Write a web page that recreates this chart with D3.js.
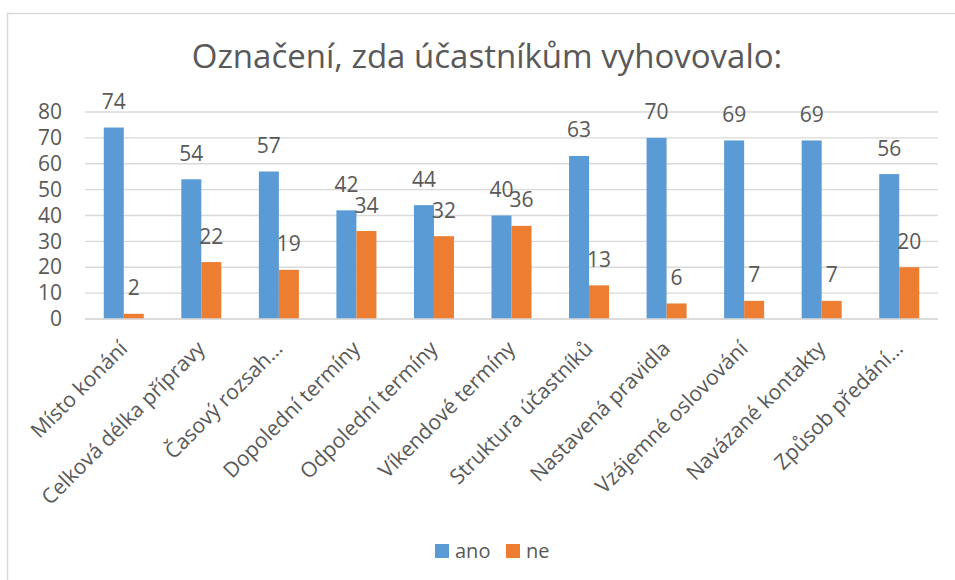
<!DOCTYPE html>
<html>
<head>
<meta charset="utf-8">
<script src="https://cdn.jsdelivr.net/npm/d3@7"></script>
<style>
  body { margin: 0; background: #fff; }
  svg { display: block; font-family: 'Open Sans', sans-serif; }
</style>
</head>
<body>
<svg id="chart" width="955" height="580"></svg>
<script>
const categories = [
  'Místo konání',
  'Celková délka přípravy',
  'Časový rozsah…',
  'Dopolední termíny',
  'Odpolední termíny',
  'Víkendové termíny',
  'Struktura účastníků',
  'Nastavená pravidla',
  'Vzájemné oslovování',
  'Navázané kontakty',
  'Způsob předání…'
]
const seriesNames = ['ano', 'ne']
const ano = [74, 54, 57, 42, 44, 40, 63, 70, 69, 69, 56]
const ne = [2, 22, 19, 34, 32, 36, 13, 6, 7, 7, 20]
const yTicks = [0, 10, 20, 30, 40, 50, 60, 70, 80]
const title = 'Označení, zda účastníkům vyhovovalo:'

const colors = { ano: '#5B9BD5', ne: '#ED7D31' }
const textColor = '#595959'
const gridColor = '#d9d9d9'

const width = 955
const height = 580
const margin = { top: 112, right: 17, bottom: 261, left: 85 }

const svg = d3.select('#chart')

/* chart frame */
svg
  .append('rect')
  .attr('x', 7.5)
  .attr('y', 13.5)
  .attr('width', width)
  .attr('height', height)
  .attr('fill', '#fff')
  .attr('stroke', gridColor)
  .attr('stroke-width', 1.5)

/* scales */
const x0 = d3
  .scaleBand()
  .domain(categories)
  .range([margin.left, width - margin.right])
  .paddingInner(0.484)
  .paddingOuter(0.242)

const x1 = d3
  .scaleBand()
  .domain(seriesNames)
  .range([0, x0.bandwidth()])

const y = d3
  .scaleLinear()
  .domain([0, 80])
  .range([height - margin.bottom, margin.top])

/* grid */
svg
  .append('g')
  .selectAll('line')
  .data(yTicks)
  .join('line')
  .attr('x1', margin.left)
  .attr('x2', width - margin.right)
  .attr('y1', (d) => y(d))
  .attr('y2', (d) => y(d))
  .attr('stroke', gridColor)
  .attr('stroke-width', 1.3)

/* y axis labels */
const yAxis = svg
  .append('g')
  .attr('transform', `translate(${margin.left - 23}, 0)`)
  .call(d3.axisLeft(y).tickValues(yTicks).tickSize(0).tickPadding(0))
yAxis.select('.domain').remove()
yAxis
  .selectAll('text')
  .attr('fill', textColor)
  .attr('font-size', 21)
  .attr('font-family', "'Open Sans', sans-serif")

/* bars */
const rows = categories.map((c, i) => ({ cat: c, ano: ano[i], ne: ne[i] }))

const groups = svg
  .append('g')
  .selectAll('g')
  .data(rows)
  .join('g')
  .attr('transform', (d) => `translate(${x0(d.cat)}, 0)`)

groups
  .selectAll('rect')
  .data((d) => seriesNames.map((s) => ({ key: s, value: d[s] })))
  .join('rect')
  .attr('x', (d) => x1(d.key))
  .attr('y', (d) => y(d.value))
  .attr('width', x1.bandwidth())
  .attr('height', (d) => y(0) - y(d.value))
  .attr('fill', (d) => colors[d.key])

groups
  .selectAll('text')
  .data((d) => seriesNames.map((s) => ({ key: s, value: d[s] })))
  .join('text')
  .attr('x', (d) => x1(d.key) + x1.bandwidth() / 2)
  .attr('y', (d) => y(d.value) - 18.5)
  .attr('text-anchor', 'middle')
  .attr('font-size', 21)
  .attr('fill', textColor)
  .text((d) => d.value)

/* x axis */
svg
  .append('line')
  .attr('x1', margin.left)
  .attr('x2', width - margin.right)
  .attr('y1', y(0))
  .attr('y2', y(0))
  .attr('stroke', gridColor)
  .attr('stroke-width', 1.3)

svg
  .append('g')
  .selectAll('text')
  .data(categories)
  .join('text')
  .attr(
    'transform',
    (d) => `translate(${x0(d) + x0.bandwidth() / 2 + 5}, 350) rotate(-45)`
  )
  .attr('text-anchor', 'end')
  .attr('font-size', 21)
  .attr('fill', textColor)
  .text((d) => d)

/* title */
svg
  .append('text')
  .attr('x', 487)
  .attr('y', 68)
  .attr('text-anchor', 'middle')
  .attr('font-size', 33)
  .attr('fill', textColor)
  .text(title)

/* legend */
const legend = svg
  .append('g')
  .selectAll('g')
  .data(seriesNames)
  .join('g')
  .attr('transform', (d, i) => `translate(${435 + i * 71}, 544)`)

legend
  .append('rect')
  .attr('width', 14)
  .attr('height', 14)
  .attr('fill', (d) => colors[d])

legend
  .append('text')
  .attr('x', 20)
  .attr('y', 14)
  .attr('font-size', 20)
  .attr('fill', textColor)
  .text((d) => d)
</script>
</body>
</html>
